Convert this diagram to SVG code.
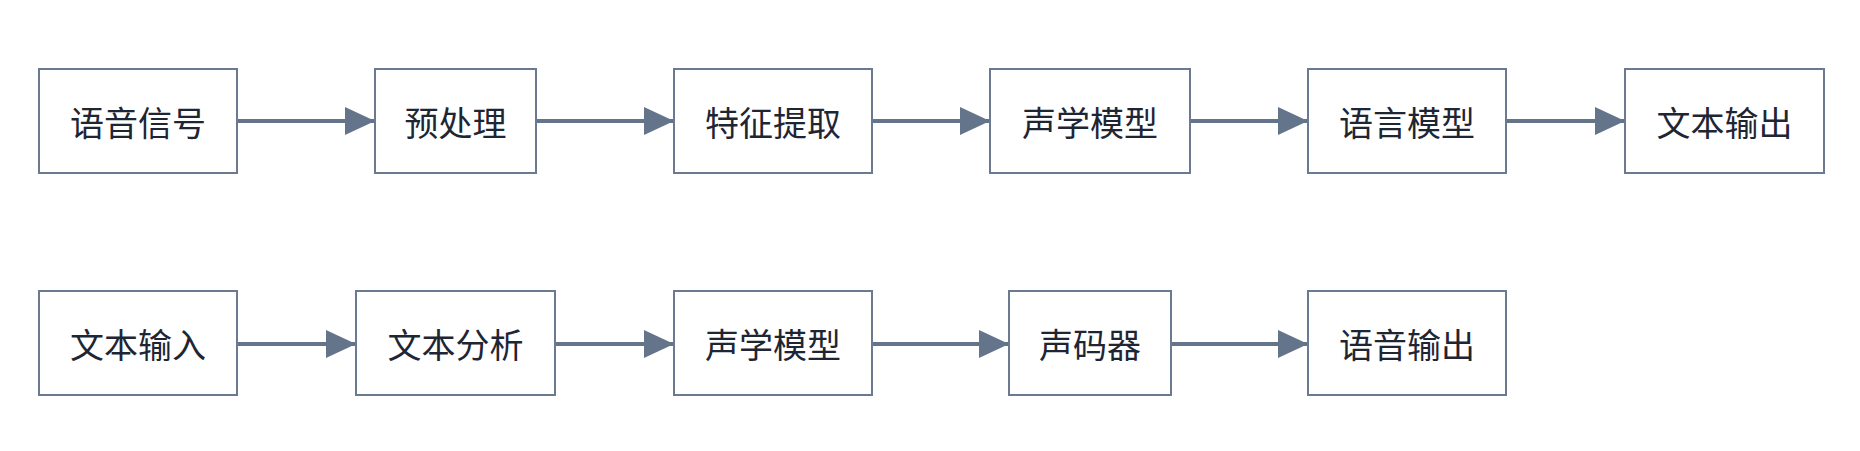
<svg xmlns="http://www.w3.org/2000/svg" width="1860" height="451" viewBox="0 0 1860 451">
<style>
.n rect{fill:#fff;stroke:#6b7a90;stroke-width:2}
.n text{font-family:"Noto Sans CJK SC","Noto Sans",sans-serif;font-size:34px;fill:#1e2533;text-anchor:middle;dominant-baseline:central}
.c line{stroke:#64748b;stroke-width:4}
</style>
<defs><marker id="a" markerWidth="10" markerHeight="10" refX="9" refY="5" orient="auto" markerUnits="userSpaceOnUse" viewBox="0 0 10 10"><path d="M0,0L10,5L0,10z" fill="#64748b"/></marker>
<marker id="h" viewBox="0 0 30 28" refX="30" refY="14" markerWidth="30" markerHeight="28" orient="auto" markerUnits="userSpaceOnUse"><path d="M0,0L30,14L0,28z" fill="#64748b"/></marker></defs>
<rect width="1860" height="451" fill="#fff"/>
<g class="c">
<line x1="237" y1="121" x2="375" y2="121" marker-end="url(#h)"/>
<line x1="536" y1="121" x2="674" y2="121" marker-end="url(#h)"/>
<line x1="872" y1="121" x2="990" y2="121" marker-end="url(#h)"/>
<line x1="1190" y1="121" x2="1308" y2="121" marker-end="url(#h)"/>
<line x1="1506" y1="121" x2="1625" y2="121" marker-end="url(#h)"/>
<line x1="237" y1="344" x2="356" y2="344" marker-end="url(#h)"/>
<line x1="555" y1="344" x2="674" y2="344" marker-end="url(#h)"/>
<line x1="872" y1="344" x2="1009" y2="344" marker-end="url(#h)"/>
<line x1="1171" y1="344" x2="1308" y2="344" marker-end="url(#h)"/>
</g>
<g id="n1" class="n"><rect x="39" y="69" width="198" height="104"/><text x="138" y="121">语音信号</text></g>
<g id="n2" class="n"><rect x="375" y="69" width="161" height="104"/><text x="455.5" y="121">预处理</text></g>
<g id="n3" class="n"><rect x="674" y="69" width="198" height="104"/><text x="773" y="121">特征提取</text></g>
<g id="n4" class="n"><rect x="990" y="69" width="200" height="104"/><text x="1090" y="121">声学模型</text></g>
<g id="n5" class="n"><rect x="1308" y="69" width="198" height="104"/><text x="1407" y="121">语言模型</text></g>
<g id="n6" class="n"><rect x="1625" y="69" width="199" height="104"/><text x="1724.5" y="121">文本输出</text></g>
<g id="m1" class="n"><rect x="39" y="291" width="198" height="104"/><text x="138" y="343">文本输入</text></g>
<g id="m2" class="n"><rect x="356" y="291" width="199" height="104"/><text x="455.5" y="343">文本分析</text></g>
<g id="m3" class="n"><rect x="674" y="291" width="198" height="104"/><text x="773" y="343">声学模型</text></g>
<g id="m4" class="n"><rect x="1009" y="291" width="162" height="104"/><text x="1090" y="343">声码器</text></g>
<g id="m5" class="n"><rect x="1308" y="291" width="198" height="104"/><text x="1407" y="343">语音输出</text></g>
</svg>
